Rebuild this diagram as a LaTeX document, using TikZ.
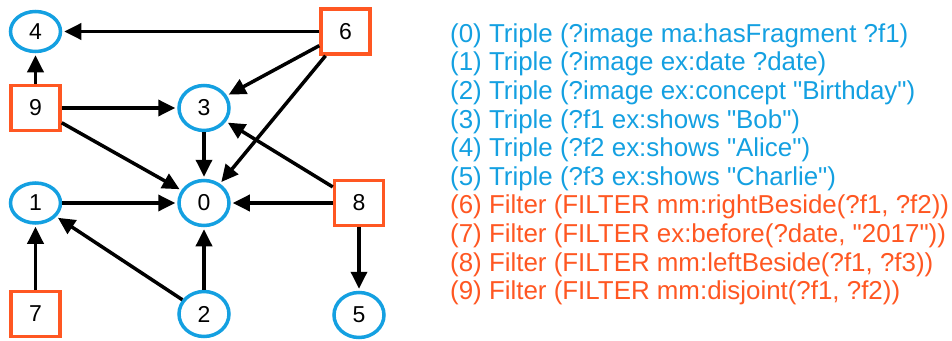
\documentclass[tikz,border=0pt]{standalone}
\usepackage{fontspec}
\setmainfont{Liberation Sans}
\newfontfamily\listfont{Liberation Sans}
\newfontfamily\numfont{Liberation Sans}
\usetikzlibrary{shapes.geometric,arrows.meta}
\definecolor{tblue}{RGB}{20,160,225}
\definecolor{forange}{RGB}{255,87,34}
\begin{document}
\begin{tikzpicture}[x=1pt,y=-1pt,
  tri/.style={ellipse, draw=tblue, line width=3.5pt, inner sep=0pt,
    minimum width=50pt, minimum height=45pt, font=\numfont\fontsize{23}{27}\selectfont},
  flat/.style={minimum height=40pt},
  flt/.style={rectangle, draw=forange, line width=3.5pt, inner sep=0pt,
    minimum width=49pt, minimum height=45pt, font=\numfont\fontsize{23}{27}\selectfont},
  link/.style={draw, line width=3.5pt, -{Triangle[length=17pt,width=16pt]}, shorten >=2pt},
  lbl/.style={anchor=base west, inner sep=0pt, font=\listfont\fontsize{25.9}{30}\selectfont}]
\useasboundingbox (0,0) rectangle (952,340);
% nodes
\node[tri,flat] (n4) at (35.5,31.5) {4};
\node[tri,flat] (n1) at (35.5,203) {1};
\node[tri] (n3) at (204,108) {3};
\node[tri] (n0) at (204,203) {0};
\node[tri] (n2) at (204,314) {2};
\node[tri] (n5) at (359,315) {5};
\node[flt] (n6) at (345.5,31.5) {6};
\node[flt] (n9) at (35.5,108) {9};
\node[flt] (n8) at (359,203) {8};
\node[flt] (n7) at (35.5,314) {7};
% edges
\draw[link] (n6) -- (n4);
\draw[link] (n6) -- (n3);
\draw[link] (n6) -- (n0);
\draw[link] (n9) -- (n4);
\draw[link] (n9) -- (n3);
\draw[link] (n9) -- (n0);
\draw[link] (n3) -- (n0);
\draw[link] (n8) -- (n3);
\draw[link] (n8) -- (n0);
\draw[link] (n8) -- (n5);
\draw[link] (n1) -- (n0);
\draw[link] (n2) -- (n1);
\draw[link] (n2) -- (n0);
\draw[link] (n7) -- (n1);
% list
\node[lbl,text=tblue] (l0) at (450,42.3) {(0) Triple (?image ma:hasFragment ?f1)};
\node[lbl,text=tblue] (l1) at (450,70.9) {(1) Triple (?image ex:date ?date)};
\node[lbl,text=tblue] (l2) at (450,99.5) {(2) Triple (?image ex:concept "Birthday")};
\node[lbl,text=tblue] (l3) at (450,128.1) {(3) Triple (?f1 ex:shows "Bob")};
\node[lbl,text=tblue] (l4) at (450,156.7) {(4) Triple (?f2 ex:shows "Alice")};
\node[lbl,text=tblue] (l5) at (450,185.3) {(5) Triple (?f3 ex:shows "Charlie")};
\node[lbl,text=forange] (l6) at (450,213.9) {(6) Filter (FILTER mm:rightBeside(?f1, ?f2))};
\node[lbl,text=forange] (l7) at (450,242.5) {(7) Filter (FILTER ex:before(?date, "2017"))};
\node[lbl,text=forange] (l8) at (450,271.1) {(8) Filter (FILTER mm:leftBeside(?f1, ?f3))};
\node[lbl,text=forange] (l9) at (450,299.7) {(9) Filter (FILTER mm:disjoint(?f1, ?f2))};
\end{tikzpicture}
\end{document}
